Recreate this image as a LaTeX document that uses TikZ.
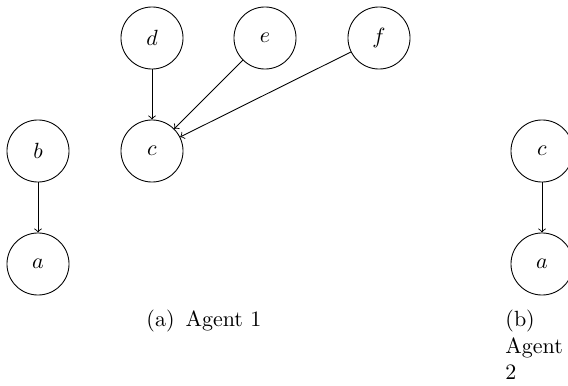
\documentclass[tikz,border=0pt]{standalone}
\usetikzlibrary{arrows}
\begin{document}
\begin{tikzpicture}[x=0.4545pt,y=-0.4545pt,
  var/.style={draw,circle,minimum size=28.2pt,inner sep=0pt,font=\fontsize{10}{12}\selectfont},
  edge/.style={->,line width=0.4pt},
  captext/.style={inner sep=0pt,font=\fontsize{10}{12}\selectfont}]
\useasboundingbox (0,0) rectangle (568,386);
\node[var] (d) at (152,38) {$d$};
\node[var] (e) at (265,38) {$e$};
\node[var] (f) at (379,38) {$f$};
\node[var] (c) at (152,151) {$c$};
\node[var] (b) at (38,151) {$b$};
\node[var] (a) at (38,264) {$a$};
\node[var] (c2) at (542,151) {$c$};
\node[var] (a2) at (542,264) {$a$};
\draw[edge] (d) -- (c);
\draw[edge] (e) -- (c);
\draw[edge] (f) -- (c);
\draw[edge] (b) -- (a);
\draw[edge] (c2) -- (a2);
\node[captext,anchor=base west] (capa) at (146,326) {(a)\hspace{5pt}Agent 1};
\node[captext,anchor=north west,align=left] (capb) at (505,310) {(b)\\Agent\\2};
\end{tikzpicture}
\end{document}
